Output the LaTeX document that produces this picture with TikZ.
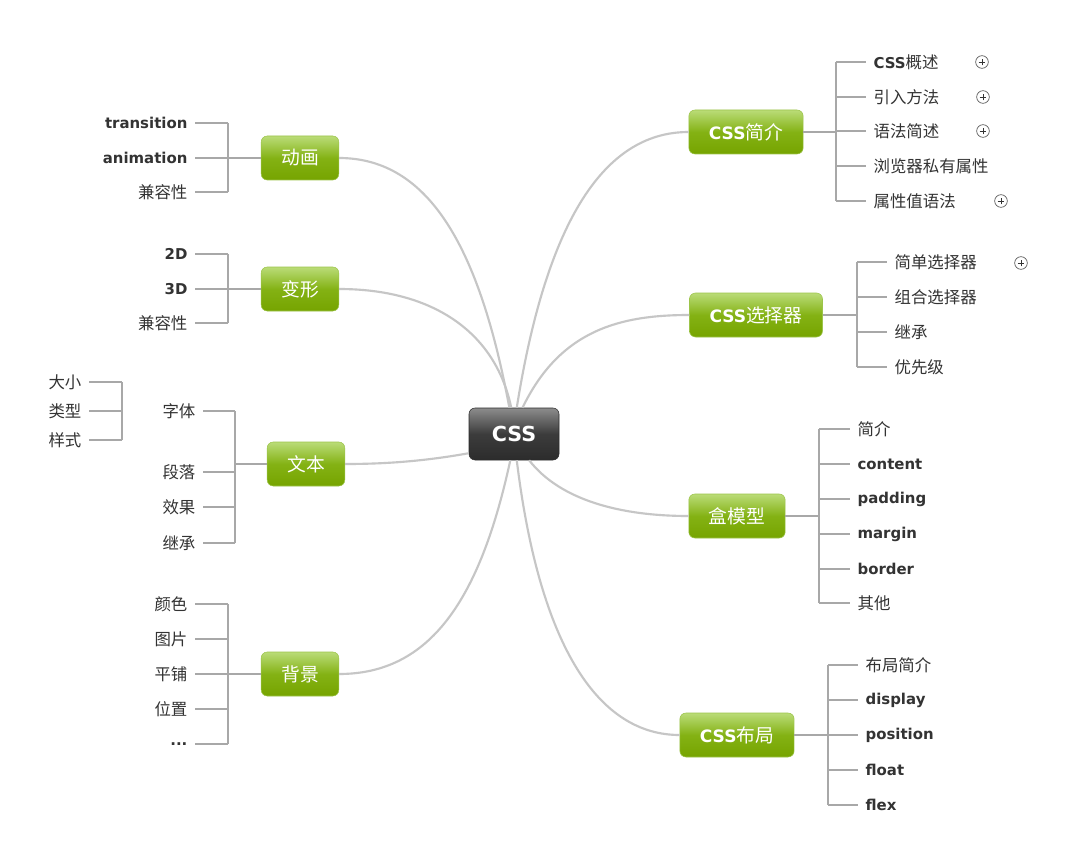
\documentclass[tikz,border=0pt]{standalone}
\usepackage{fontspec}
\setmainfont{DejaVu Sans}
\newfontfamily\cjk[Scale=1.1]{Noto Sans CJK SC}
\usetikzlibrary{positioning}
\definecolor{leafgray}{HTML}{333333}
\definecolor{linkgray}{HTML}{C6C6C6}
\definecolor{stemgray}{HTML}{A8A8A8}
\definecolor{topicgreen}{HTML}{76A400}
\definecolor{topicmid}{HTML}{84B214}
\definecolor{topiclight}{HTML}{BADC78}
\definecolor{topicedge}{HTML}{9CC44A}
\definecolor{rootdark}{HTML}{2C2C2C}
\definecolor{rootmid}{HTML}{3C3C3C}
\definecolor{rootlight}{HTML}{8C8C8C}
\newcommand{\zh}[1]{{\cjk #1}}
\newcommand{\en}[1]{{\bfseries #1}}

\begin{document}
\begin{tikzpicture}[x=0.75pt,y=-0.75pt,
 root/.style={rounded corners=4.5pt,draw=rootdark,top color=rootlight,bottom color=rootdark,middle color=rootmid,text=white,font=\fontsize{15.5}{18}\selectfont\bfseries,minimum width=67.5pt,minimum height=39pt},
 topic/.style={rounded corners=4.5pt,draw=topicedge,top color=topiclight,bottom color=topicgreen,middle color=topicmid,text=white,font=\fontsize{12.8}{15}\selectfont,minimum height=33pt,inner xsep=15pt},
 leaf/.style={text=leafgray,font=\fontsize{11.2}{13}\selectfont,inner xsep=5.5pt,inner ysep=1pt},
 link/.style={draw=linkgray,line width=1.6pt},
 stem/.style={draw=stemgray,line width=0.8pt},
 plus/.style={circle,draw=leafgray!80,fill=white,line width=0.5pt,minimum size=9.5pt,inner sep=0pt,
  path picture={\draw[leafgray,line width=0.6pt] (path picture bounding box.center) +(-2.6pt,0) -- +(2.6pt,0) +(0,-2.6pt) -- +(0,2.6pt);}}
]
\fill[white] (0,0) rectangle (1076,867);
\useasboundingbox (0,0) rectangle (1076,867);

% centre and main topics
\node[root] (root) at (514,434) {CSS};
\node[topic] (anim) at (300,158) {\zh{动画}};
\node[topic] (morph) at (300,289) {\zh{变形}};
\node[topic] (txt) at (306,464) {\zh{文本}};
\node[topic] (bg) at (300,674) {\zh{背景}};
\node[topic] (intro) at (746,132) {\en{CSS}\zh{简介}};
\node[topic] (sel) at (756,315) {\en{CSS}\zh{选择器}};
\node[topic] (box) at (737,516) {\zh{盒模型}};
\node[topic] (layout) at (737,735) {\en{CSS}\zh{布局}};

\draw[link] (root.100) .. controls (480,250) and (430,158) .. (anim.east);
\draw[link] (root.96) .. controls (495,330) and (430,289) .. (morph.east);
\draw[link] (root.203) .. controls (420,462) and (380,464) .. (txt.east);
\draw[link] (root.-98) .. controls (480,600) and (430,674) .. (bg.east);
\draw[link] (root.84) .. controls (545,230) and (600,132) .. (intro.west);
\draw[link] (root.72) .. controls (560,330) and (620,315) .. (sel.west);
\draw[link] (root.-60) .. controls (560,500) and (620,516) .. (box.west);
\draw[link] (root.-84) .. controls (540,650) and (600,735) .. (layout.west);

% right side
\coordinate (jintro) at (836,132);
\draw[stem] (intro) -- (jintro);
\foreach \y/\t [count=\i] in {62/{\en{CSS}\zh{概述}},97/{\zh{引入方法}},131/{\zh{语法简述}},166/{\zh{浏览器私有属性}},201/{\zh{属性值语法}}}{
 \node[leaf,anchor=west] (intro\i) at (866,\y) {\t};
 \draw[stem] (jintro |- intro\i.west) -- (intro\i.west);
}
\draw[stem] (jintro |- intro1.west) -- (jintro |- intro5.west);
\node[plus] (intro1p) at (982,62) {};
\node[plus] (intro2p) at (983,97) {};
\node[plus] (intro3p) at (983,131) {};
\node[plus] (intro5p) at (1001,201) {};

\coordinate (jsel) at (857,315);
\draw[stem] (sel) -- (jsel);
\foreach \y/\t [count=\i] in {262/{\zh{简单选择器}},297/{\zh{组合选择器}},332/{\zh{继承}},367/{\zh{优先级}}}{
 \node[leaf,anchor=west] (sel\i) at (887,\y) {\t};
 \draw[stem] (jsel |- sel\i.west) -- (sel\i.west);
}
\draw[stem] (jsel |- sel1.west) -- (jsel |- sel4.west);
\node[plus] (sel1p) at (1021,263) {};

\coordinate (jbox) at (819,516);
\draw[stem] (box) -- (jbox);
\foreach \y/\t [count=\i] in {429/{\zh{简介}},464/{\en{content}},499/{\en{padding}},534/{\en{margin}},569/{\en{border}},603/{\zh{其他}}}{
 \node[leaf,anchor=west] (box\i) at (850,\y) {\t};
 \draw[stem] (jbox |- box\i.west) -- (box\i.west);
}
\draw[stem] (jbox |- box1.west) -- (jbox |- box6.west);

\coordinate (jlay) at (828,735);
\draw[stem] (layout) -- (jlay);
\foreach \y/\t [count=\i] in {665/{\zh{布局简介}},700/{\en{display}},735/{\en{position}},770/{\en{float}},805/{\en{flex}}}{
 \node[leaf,anchor=west] (lay\i) at (858,\y) {\t};
 \draw[stem] (jlay |- lay\i.west) -- (lay\i.west);
}
\draw[stem] (jlay |- lay1.west) -- (jlay |- lay5.west);

% left side
\coordinate (janim) at (228,158);
\draw[stem] (anim) -- (janim);
\foreach \y/\t [count=\i] in {123/{\en{transition}},158/{\en{animation}},192/{\zh{兼容性}}}{
 \node[leaf,anchor=east] (anim\i) at (195,\y) {\t};
 \draw[stem] (janim |- anim\i.east) -- (anim\i.east);
}
\draw[stem] (janim |- anim1.east) -- (janim |- anim3.east);

\coordinate (jmorph) at (228,289);
\draw[stem] (morph) -- (jmorph);
\foreach \y/\t [count=\i] in {254/{\en{2D}},289/{\en{3D}},323/{\zh{兼容性}}}{
 \node[leaf,anchor=east] (morph\i) at (195,\y) {\t};
 \draw[stem] (jmorph |- morph\i.east) -- (morph\i.east);
}
\draw[stem] (jmorph |- morph1.east) -- (jmorph |- morph3.east);

\coordinate (jtxt) at (235,464);
\draw[stem] (txt) -- (jtxt);
\foreach \y/\t [count=\i] in {411/{\zh{字体}},472/{\zh{段落}},507/{\zh{效果}},543/{\zh{继承}}}{
 \node[leaf,anchor=east] (txt\i) at (203,\y) {\t};
 \draw[stem] (jtxt |- txt\i.east) -- (txt\i.east);
}
\draw[stem] (jtxt |- txt1.east) -- (jtxt |- txt4.east);

\coordinate (jfnt) at (122,411);
\foreach \y/\t [count=\i] in {382/{\zh{大小}},411/{\zh{类型}},440/{\zh{样式}}}{
 \node[leaf,anchor=east] (fnt\i) at (89,\y) {\t};
 \draw[stem] (jfnt |- fnt\i.east) -- (fnt\i.east);
}
\draw[stem] (jfnt |- fnt1.east) -- (jfnt |- fnt3.east);

\coordinate (jbg) at (228,674);
\draw[stem] (bg) -- (jbg);
\foreach \y/\t [count=\i] in {604/{\zh{颜色}},639/{\zh{图片}},674/{\zh{平铺}},709/{\zh{位置}},744/{\en{...}}}{
 \node[leaf,anchor=east] (bg\i) at (195,\y) {\t};
 \draw[stem] (jbg |- bg\i.east) -- (bg\i.east);
}
\draw[stem] (jbg |- bg1.east) -- (jbg |- bg5.east);
\end{tikzpicture}
\end{document}
